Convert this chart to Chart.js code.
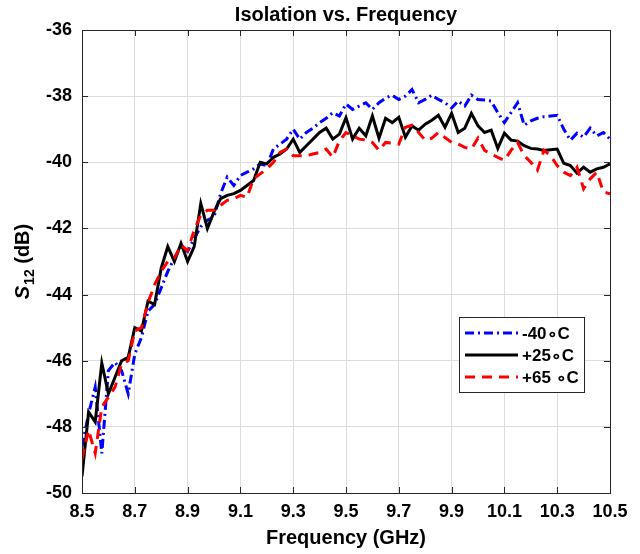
<!DOCTYPE html>
<html>
<head>
<meta charset="utf-8">
<title>Isolation vs. Frequency</title>
<script src="https://cdn.jsdelivr.net/npm/chart.js@4.4.1/dist/chart.umd.min.js"></script>
<style>
  html, body { margin: 0; padding: 0; background: #ffffff; }
  #wrap { width: 640px; height: 554px; }
</style>
</head>
<body>
<div id="wrap"><canvas id="chart" width="640" height="554"></canvas></div>
<script>
// Sweep frequencies (GHz)
const freqGHz = [
  8.500, 8.525, 8.550, 8.575, 8.600, 8.625, 8.650, 8.675, 8.700, 8.725,
  8.750, 8.775, 8.800, 8.825, 8.850, 8.875, 8.900, 8.925, 8.950, 8.975,
  9.000, 9.025, 9.050, 9.075, 9.100, 9.125, 9.150, 9.175, 9.200, 9.225,
  9.250, 9.275, 9.300, 9.325, 9.350, 9.375, 9.400, 9.425, 9.450, 9.475,
  9.500, 9.525, 9.550, 9.575, 9.600, 9.625, 9.650, 9.675, 9.700, 9.725,
  9.750, 9.775, 9.800, 9.825, 9.850, 9.875, 9.900, 9.925, 9.950, 9.975,
  10.000, 10.025, 10.050, 10.075, 10.100, 10.125, 10.150, 10.175, 10.200, 10.225,
  10.250, 10.275, 10.300, 10.325, 10.350, 10.375, 10.400, 10.425, 10.450, 10.475,
  10.500
];

// Measured S12 (dB) at -40 °C
const s12Minus40 = [
  -48.6, -47.6, -46.8, -48.8, -46.3, -46.05, -46.3, -47.0, -45.8, -45.3,
  -44.5, -44.3, -43.8, -43.3, -42.9, -42.55, -42.7, -42.3, -41.95, -41.75,
  -41.65, -40.95, -40.45, -40.7, -40.4, -40.3, -40.2, -40.05, -40.1, -39.6,
  -39.45, -39.3, -39.0, -39.3, -39.1, -38.97, -38.8, -38.67, -38.5, -38.6,
  -38.24, -38.4, -38.3, -38.2, -38.4, -38.2, -38.06, -37.97, -38.1, -38.0,
  -37.8, -38.2, -38.1, -37.97, -38.1, -38.2, -38.36, -38.15, -38.3, -37.97,
  -38.1, -38.12, -38.15, -38.5, -38.8, -38.5, -38.2, -38.88, -38.75, -38.67,
  -38.62, -38.6, -38.58, -39.0, -39.33, -39.12, -39.24, -38.97, -39.2, -39.1,
  -39.3
];

// Measured S12 (dB) at +25 °C
const s12Plus25 = [
  -49.5, -47.55, -47.85, -46.07, -47.0, -46.5, -46.0, -45.9, -45.0, -45.1,
  -44.2, -44.3, -43.2, -42.55, -43.0, -42.45, -43.0, -42.55, -41.25, -42.0,
  -41.5, -41.1, -41.0, -40.95, -40.85, -40.7, -40.55, -40.0, -40.05, -39.85,
  -39.75, -39.6, -39.3, -39.7, -39.5, -39.3, -39.1, -38.97, -39.3, -39.15,
  -38.65, -39.3, -38.97, -39.2, -38.6, -39.27, -38.67, -38.8, -38.64, -39.24,
  -38.9, -39.03, -38.85, -38.73, -38.58, -38.94, -38.52, -39.1, -38.97, -38.52,
  -38.9, -39.1, -39.03, -39.58, -39.12, -39.33, -39.36, -39.5, -39.58, -39.6,
  -39.64, -39.62, -39.6, -40.03, -40.1, -40.33, -40.15, -40.3, -40.2, -40.15,
  -40.05
];

// Measured S12 (dB) at +65 °C
const s12Plus65 = [
  -48.97, -48.1, -48.8, -47.4, -47.1, -46.8, -46.1, -46.0, -45.1, -45.0,
  -44.25, -43.7, -43.3, -43.0, -42.9, -42.5, -42.67, -42.05, -41.6, -41.45,
  -41.45, -41.3, -41.15, -41.1, -41.0, -41.06, -40.5, -40.35, -40.2, -40.0,
  -39.7, -39.6, -39.8, -39.8, -39.8, -39.75, -39.7, -39.6, -39.85, -39.35,
  -39.1, -39.2, -39.3, -39.32, -39.4, -39.64, -39.4, -39.42, -39.45, -38.94,
  -38.88, -39.1, -39.33, -39.27, -39.1, -39.25, -39.4, -39.45, -39.55, -39.6,
  -39.27, -39.64, -39.75, -39.85, -39.94, -39.64, -39.4, -39.8, -40.0, -40.24,
  -39.64, -39.8, -40.1, -40.3, -40.4, -40.15, -40.8, -40.5, -40.3, -40.9,
  -40.95
];

// Axis ticks
const freqTicks = [8.5, 8.7, 8.9, 9.1, 9.3, 9.5, 9.7, 9.9, 10.1, 10.3, 10.5];
const dbTicks = [-50, -48, -46, -44, -42, -40, -38, -36];

// Series labels
const seriesLabels = ['-40\u2218C', '+25\u2218C', '+65 \u2218C'];
const chartTitle = 'Isolation vs. Frequency';

const FONT = "'Liberation Sans', Arial, Helvetica, sans-serif";
const INK = '#000000';
const AXIS = '#262626';

function toPoints(values) {
  return values.map((v, i) => ({ x: freqGHz[i], y: v }));
}

// Title centred over the plot area
const plotTitle = {
  id: 'plotTitle',
  afterDraw(chart) {
    const { ctx, chartArea: a } = chart;
    ctx.save();
    ctx.fillStyle = INK;
    ctx.font = "bold 20px " + FONT;
    ctx.textAlign = 'center';
    ctx.textBaseline = 'middle';
    ctx.fillText(chartTitle, (a.left + a.right) / 2, 15);
    ctx.restore();
  }
};

// Box around the plot area with inward tick marks on all four sides
const frameTicks = {
  id: 'frameTicks',
  afterDatasetsDraw(chart) {
    const { ctx, chartArea: a, scales } = chart;
    const len = 6;
    ctx.save();
    ctx.strokeStyle = AXIS;
    ctx.lineWidth = 1;
    ctx.beginPath();
    ctx.rect(a.left + 0.5, a.top + 0.5, a.right - a.left, a.bottom - a.top);
    ctx.stroke();
    ctx.beginPath();
    scales.x.ticks.forEach(t => {
      const px = Math.round(scales.x.getPixelForValue(t.value)) + 0.5;
      ctx.moveTo(px, a.bottom); ctx.lineTo(px, a.bottom - len);
      ctx.moveTo(px, a.top); ctx.lineTo(px, a.top + len);
    });
    scales.y.ticks.forEach(t => {
      const py = Math.round(scales.y.getPixelForValue(t.value)) + 0.5;
      ctx.moveTo(a.left, py); ctx.lineTo(a.left + len, py);
      ctx.moveTo(a.right, py); ctx.lineTo(a.right - len, py);
    });
    ctx.stroke();
    ctx.restore();
  }
};

// Vertical axis title: italic S with subscript 12, then the unit
const yTitle = {
  id: 'yTitle',
  afterDraw(chart) {
    const { ctx, chartArea: a } = chart;
    const cx = 22;
    const cy = (a.top + a.bottom) / 2;
    const fMain = "italic bold 20px " + FONT;
    const fSub = "bold 14px " + FONT;
    const fUnit = "bold 20px " + FONT;
    ctx.save();
    ctx.font = fMain; const wS = ctx.measureText('S').width;
    ctx.font = fSub; const wSub = ctx.measureText('12').width;
    ctx.font = fUnit; const wU = ctx.measureText(' (dB)').width;
    const total = wS + 1 + wSub + wU;
    ctx.translate(cx, cy);
    ctx.rotate(-Math.PI / 2);
    ctx.fillStyle = INK;
    ctx.textBaseline = 'alphabetic';
    ctx.textAlign = 'left';
    let x = -total / 2;
    const base = 7;
    ctx.font = fMain; ctx.fillText('S', x, base); x += wS + 1;
    ctx.font = fSub; ctx.fillText('12', x, base + 5); x += wSub;
    ctx.font = fUnit; ctx.fillText(' (dB)', x, base);
    ctx.restore();
  }
};

// Boxed legend inside the plot area, built from the dataset styles
const boxLegend = {
  id: 'boxLegend',
  afterDraw(chart) {
    const { ctx } = chart;
    const bx = 459, by = 317, bw = 125, bh = 75;
    ctx.save();
    ctx.fillStyle = '#ffffff';
    ctx.fillRect(bx, by, bw, bh);
    ctx.strokeStyle = AXIS;
    ctx.lineWidth = 1;
    ctx.strokeRect(bx + 0.5, by + 0.5, bw, bh);
    [0, 1, 2].forEach((di, r) => {
      const ds = chart.data.datasets[di];
      const y = by + 16 + r * 22;
      ctx.strokeStyle = ds.borderColor;
      ctx.lineWidth = ds.borderWidth;
      ctx.setLineDash(ds.borderDash || []);
      ctx.beginPath();
      ctx.moveTo(bx + 6, y);
      ctx.lineTo(bx + 59, y);
      ctx.stroke();
      ctx.setLineDash([]);
      ctx.fillStyle = INK;
      ctx.font = "bold 17px " + FONT;
      ctx.textBaseline = 'middle';
      ctx.textAlign = 'left';
      ctx.fillText(ds.label, bx + 63, y + 1);
    });
    ctx.restore();
  }
};

new Chart(document.getElementById('chart'), {
  type: 'line',
  data: {
    datasets: [
      {
        label: seriesLabels[0],
        data: toPoints(s12Minus40),
        borderColor: '#0000ff',
        borderWidth: 3,
        borderDash: [9, 4, 2, 4],
        pointRadius: 0,
        tension: 0,
        fill: false,
        order: 3
      },
      {
        label: seriesLabels[1],
        data: toPoints(s12Plus25),
        borderColor: '#000000',
        borderWidth: 3,
        pointRadius: 0,
        tension: 0,
        fill: false,
        order: 2
      },
      {
        label: seriesLabels[2],
        data: toPoints(s12Plus65),
        borderColor: '#ff0000',
        borderWidth: 3,
        borderDash: [10, 7],
        pointRadius: 0,
        tension: 0,
        fill: false,
        order: 1
      }
    ]
  },
  options: {
    responsive: false,
    animation: false,
    devicePixelRatio: 1,
    layout: { padding: { top: 30, right: 30, bottom: 0, left: 0 } },
    plugins: {
      legend: { display: false },
      tooltip: { enabled: false },
      title: { display: false }
    },
    scales: {
      x: {
        type: 'linear',
        min: 8.5,
        max: 10.5,
        afterFit(s) { s.height = 61; },
        afterBuildTicks(s) { s.ticks = freqTicks.map(v => ({ value: v })); },
        grid: { color: '#dcdcdc', lineWidth: 1, drawTicks: false },
        border: { display: true, color: AXIS, width: 1 },
        ticks: {
          color: INK,
          padding: 8,
          maxRotation: 0,
          autoSkip: false,
          font: { family: FONT, size: 18, weight: 'bold' },
          callback: v => Number(v).toFixed(1)
        },
        title: {
          display: true,
          text: 'Frequency (GHz)',
          color: INK,
          font: { family: FONT, size: 20, weight: 'bold' },
          padding: { top: 0, bottom: 4 }
        }
      },
      y: {
        type: 'linear',
        min: -50,
        max: -36,
        afterFit(s) { s.width = 82; },
        afterBuildTicks(s) { s.ticks = dbTicks.map(v => ({ value: v })); },
        grid: { color: '#dcdcdc', lineWidth: 1, drawTicks: false },
        border: { display: true, color: AXIS, width: 1 },
        ticks: {
          color: INK,
          padding: 10,
          autoSkip: false,
          font: { family: FONT, size: 18, weight: 'bold' },
          callback: v => String(v)
        }
      }
    }
  },
  plugins: [plotTitle, frameTicks, yTitle, boxLegend]
});
</script>
</body>
</html>
